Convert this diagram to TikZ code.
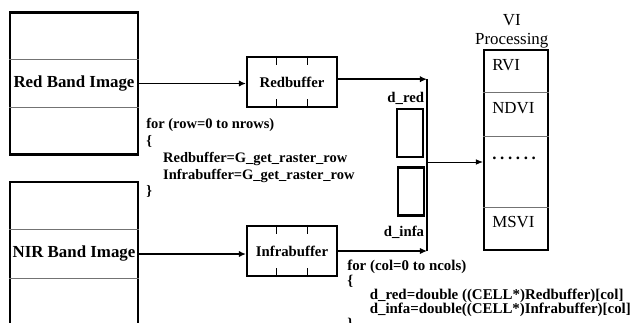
\documentclass[tikz,border=0pt]{standalone}
\usepackage{fontspec}
\setmainfont{Liberation Serif}
\usetikzlibrary{arrows.meta, positioning, calc}

\begin{document}
\begin{tikzpicture}[x=0.025cm, y=-0.025cm,
  bandbox/.style={draw, line width=1.5pt, minimum width=3.2cm, minimum height=3.55cm, inner sep=0pt, font=\fontsize{12}{14}\selectfont\bfseries},
  bufbox/.style={draw, line width=1.5pt, minimum width=2.25cm, minimum height=1.25cm, font=\fontsize{10.5}{12}\selectfont\bfseries},
  dbox/.style={draw, line width=1.5pt, minimum width=0.65cm, minimum height=1.2cm},
  stackbox/.style={draw, line width=1.5pt, minimum width=1.6cm, minimum height=5cm},
  entry/.style={anchor=west, inner sep=0pt, font=\fontsize{12}{14}\selectfont},
  dlabel/.style={inner sep=0pt, font=\fontsize{10.5}{12}\selectfont\bfseries},
  code/.style={anchor=north west, inner sep=0pt, align=left, font=\fontsize{10.3}{12}\selectfont\bfseries},
  divider/.style={black!55, line width=0.6pt},
  flow/.style={-{Latex[length=5pt,width=4.5pt]}, line width=1pt},
]
  \useasboundingbox (0,0) rectangle (630,322);

  % Band images
  \node[bandbox] (redimg) at (74,83.5) {Red Band Image};
  \node[bandbox, minimum height=3.6cm] (nirimg) at (74,254) {NIR Band Image};
  \foreach \b in {redimg,nirimg}
    \foreach \f in {1/3,2/3}
      \draw[divider] ($(\b.north west)!\f!(\b.south west)$) -- ($(\b.north east)!\f!(\b.south east)$);

  % Row buffers
  \node[bufbox] (redbuf) at (292,82) {Redbuffer};
  \node[bufbox] (infbuf) at (292,251) {Infrabuffer};
  \foreach \b in {redbuf,infbuf}
    \foreach \f in {1/3,2/3}{
      \draw ($(\b.north west)!\f!(\b.north east)$) -- ++(0,9);
      \draw ($(\b.south west)!\f!(\b.south east)$) -- ++(0,-9);
    }
  \draw[flow] (redimg.east) -- (redimg.east -| redbuf.west);
  \draw[flow] (nirimg.east) -- (nirimg.east -| infbuf.west);

  % Pixel values
  \node[dbox] (dred) at (410,133) {};
  \node[dbox] (dinfa) at (411,191.5) {};
  \node[dlabel, above=0.9mm of dred, xshift=-3pt] (dredlab) {d\_red};
  \node[dlabel, below=2.2mm of dinfa, xshift=-5pt] (dinfalab) {d\_infa};

  % Bus to VI processing
  \coordinate (bus) at (427,0);
  \coordinate (tap) at (427,162);
  \draw[flow] ([yshift=2pt]redbuf.east) -- ([yshift=2pt]redbuf.east -| bus);
  \draw[flow] (infbuf.east) -- (infbuf.east -| bus);
  \draw[line width=1pt] ([yshift=2pt]redbuf.east -| bus) -- (infbuf.east -| bus);

  % VI processing
  \node[stackbox] (vibox) at (516,150) {};
  \node[align=center, inner sep=0pt, above=0.2mm of vibox, xshift=-3pt, font=\fontsize{12}{13.5}\selectfont] (vititle) {VI\\Processing};
  \foreach \f in {0.215,0.435,0.785}
    \draw[divider] ($(vibox.north west)!\f!(vibox.south west)$) -- ($(vibox.north east)!\f!(vibox.south east)$);
  \node[entry] (rvi) at (492,65) {RVI};
  \node[entry] (ndvi) at (492,108) {NDVI};
  \node[entry] (dots) at (492,158) {\textbf{.\kern2.6pt.\kern2.6pt.\kern2.6pt.\kern2.6pt.\kern2.6pt.}};
  \node[entry] (msvi) at (492,222) {MSVI};
  \draw[-{Latex[length=5pt,width=4pt]}, line width=0.6pt] (tap) -- (tap -| vibox.west);

  % Code
  \node[code] (rowloop) at (146,118) {for (row=0 to nrows)\\\{\\\hspace*{12pt}Redbuffer=G\_get\_raster\_row\\\hspace*{12pt}Infrabuffer=G\_get\_raster\_row\\\}};
  \node[code, font=\fontsize{10.6}{10.2}\selectfont\bfseries] (colloop) at (347,260) {for (col=0 to ncols)\\\{\\\hspace*{16pt}d\_red=double ((CELL*)Redbuffer)[col]\\\hspace*{16pt}d\_infa=double((CELL*)Infrabuffer)[col]\\\}};
\end{tikzpicture}
\end{document}
